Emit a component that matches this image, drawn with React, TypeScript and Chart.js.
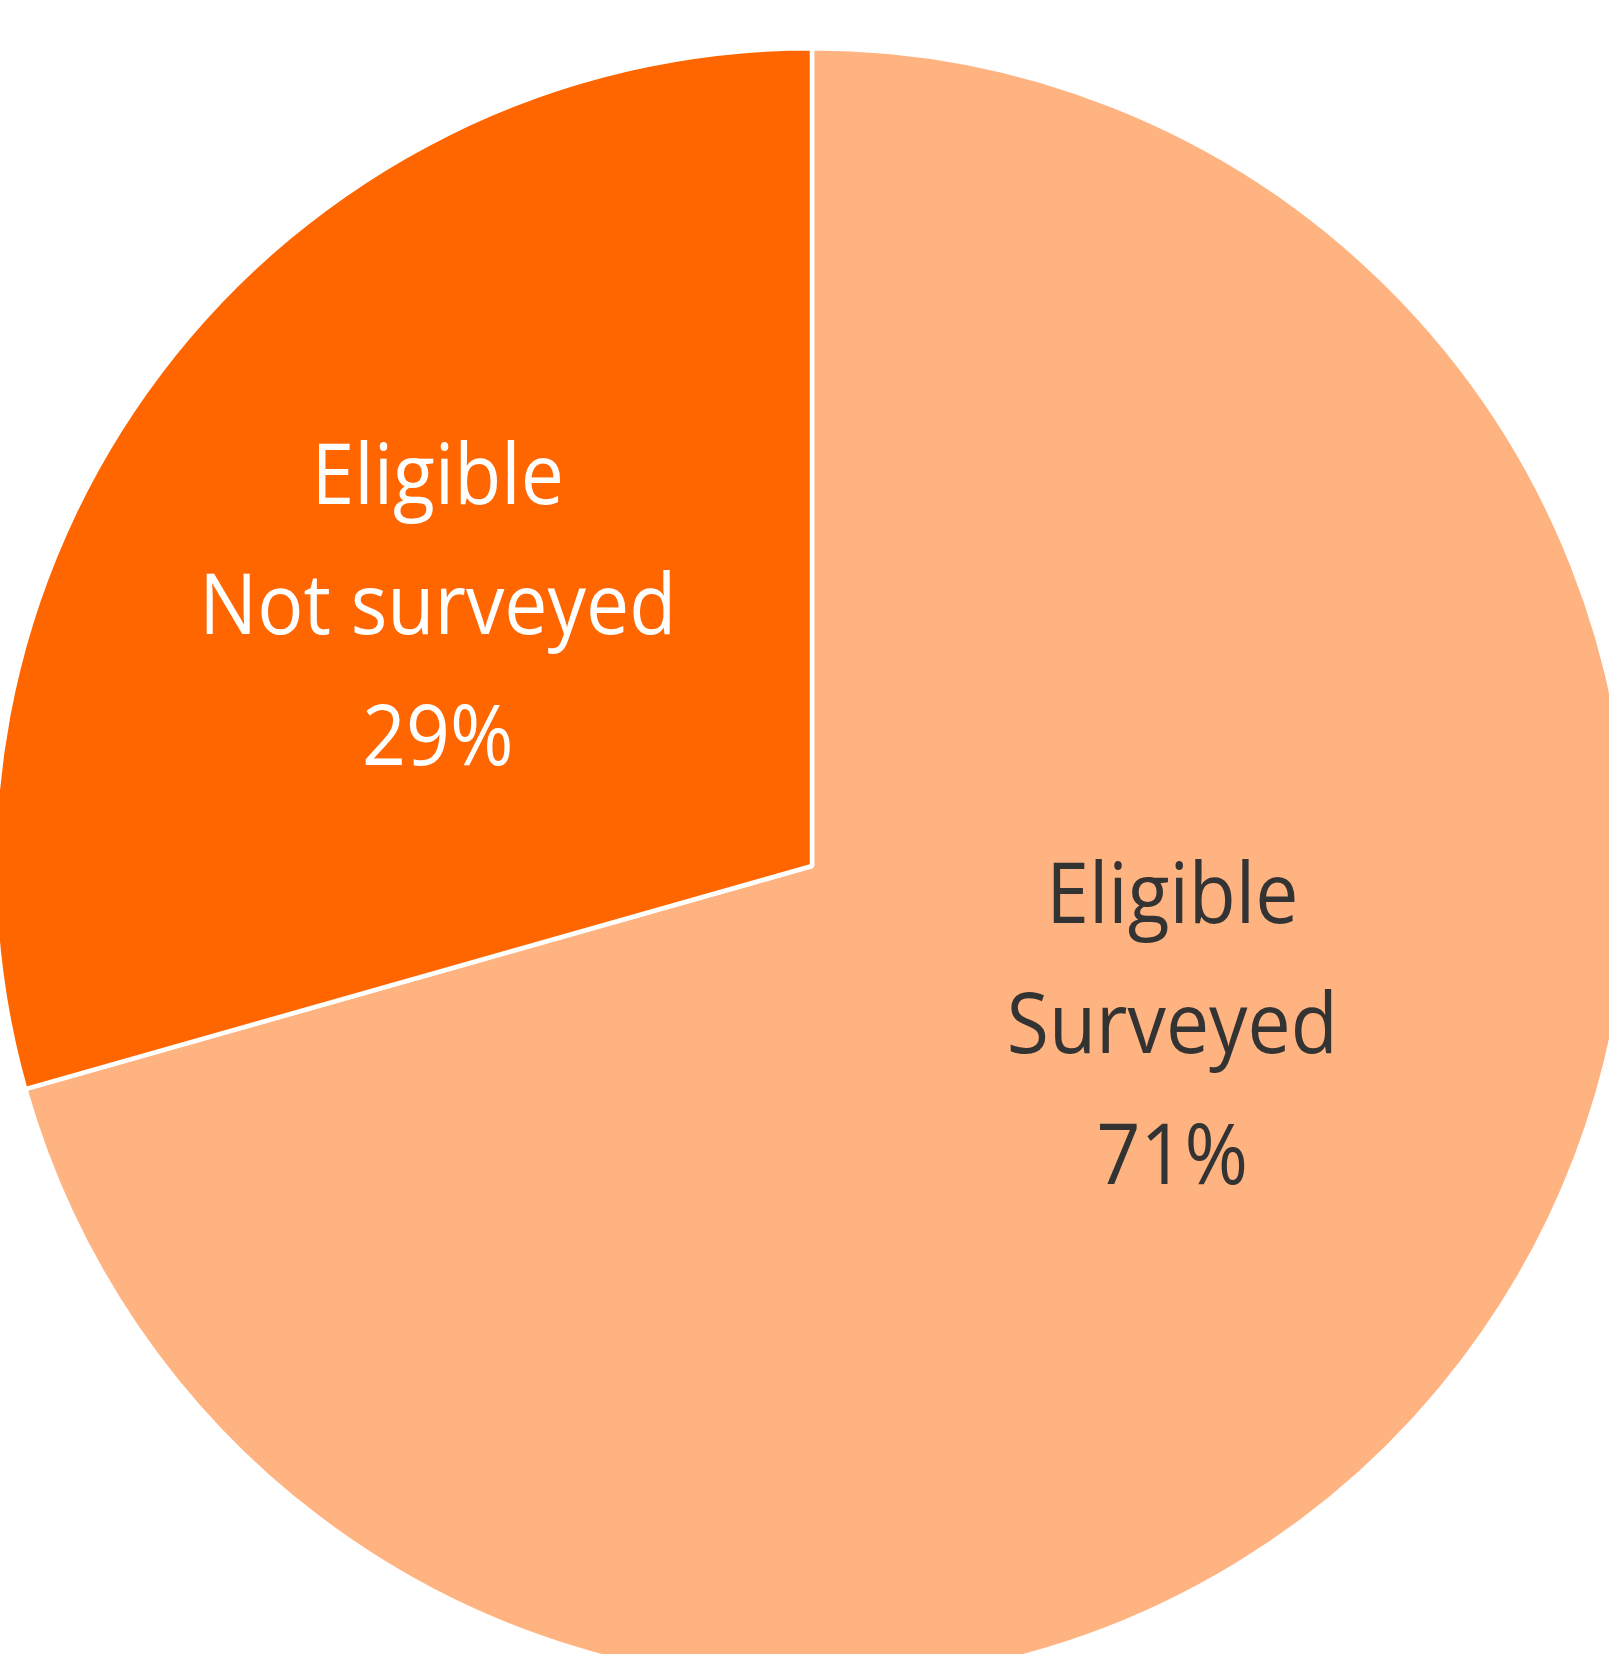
import React, { useEffect, useRef } from "react";
import { Chart, registerables } from "chart.js";

Chart.register(...registerables);

const categories = ["Eligible Surveyed", "Eligible Not surveyed"];
const labelNames = [["Eligible", "Surveyed"], ["Eligible", "Not surveyed"]];
const shares = [70.6, 29.4];
const sliceColors = ["#FFB380", "#FF6600"];
const textColors = ["#333333", "#FFFFFF"];

const labelPlugin = {
  id: "sliceLabels",
  afterDatasetsDraw(chart: any, _args: any, opts: any) {
    const meta = chart.getDatasetMeta(0);
    const ctx = chart.ctx;
    const data = chart.data.datasets[0].data as number[];
    const total = data.reduce((s, v) => s + v, 0);
    ctx.save();
    ctx.textAlign = "center";
    ctx.textBaseline = "alphabetic";
    ctx.font = `${opts.fontSize}px ${opts.fontFamily}`;
    meta.data.forEach((arc: any, i: number) => {
      const r = arc.outerRadius;
      const a = opts.anchors[i];
      const cx = arc.x + a[0] * r;
      const cy = arc.y + a[1] * r;
      ctx.fillStyle = textColors[i];
      const lines = [...labelNames[i], `${Math.round((data[i] / total) * 100)}%`];
      lines.forEach((t: string, j: number) => {
        ctx.save();
        ctx.translate(cx, cy + (j - 1) * opts.lineGap * r);
        ctx.scale(opts.squeeze, 1);
        ctx.fillText(t, 0, 0);
        ctx.restore();
      });
    });
    ctx.restore();
  },
};

export default function App() {
  const ref = useRef<HTMLCanvasElement | null>(null);
  useEffect(() => {
    if (!ref.current) return;
    const chart = new Chart(ref.current, {
      type: "pie",
      data: {
        labels: categories,
        datasets: [
          {
            data: shares,
            backgroundColor: sliceColors,
            borderColor: "#FFFFFF",
            borderWidth: 4.5,
          },
        ],
      },
      options: {
        animation: false,
        responsive: true,
        maintainAspectRatio: false,
        layout: { padding: 0 },
        plugins: {
          legend: { display: false },
          tooltip: { enabled: false },
          sliceLabels: {
            anchors: [
              [0.4406, 0.2292],
              [-0.4577, -0.2831],
            ],
            lineGap: 0.1593,
            fontSize: 84,
            squeeze: 0.915,
            fontFamily: '"Open Sans", sans-serif',
          },
        } as any,
      },
      plugins: [labelPlugin],
    });
    return () => chart.destroy();
  }, []);
  return (
    <div
      style={{
        position: "fixed",
        left: 0,
        top: 0,
        width: 1609,
        height: 1654,
        overflow: "hidden",
        background: "#FFFFFF",
      }}
    >
      <div
        style={{
          position: "absolute",
          left: -8.5,
          top: 45.5,
          width: 1640,
          height: 1640,
        }}
      >
        <canvas ref={ref} />
      </div>
    </div>
  );
}
